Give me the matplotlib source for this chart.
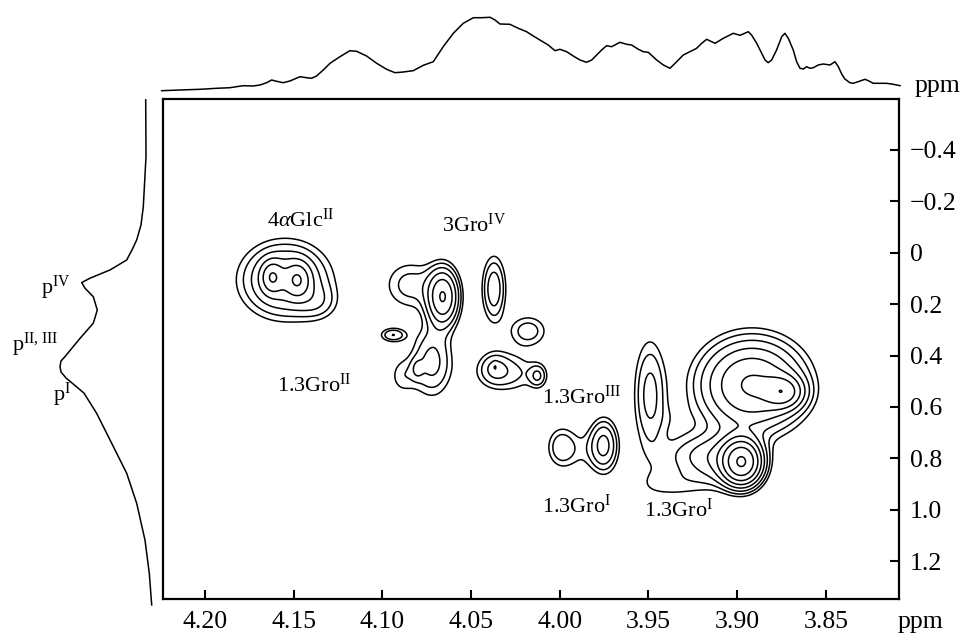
"""2D NMR contour map with top and left projections."""

import numpy as np
import matplotlib

matplotlib.use("Agg")
import matplotlib.pyplot as plt

plt.rcParams["font.family"] = ["Liberation Serif", "DejaVu Serif"]
plt.rcParams["mathtext.fontset"] = "custom"
plt.rcParams["mathtext.rm"] = "Liberation Serif"
plt.rcParams["mathtext.it"] = "Liberation Serif:italic"

# axis ticks
X_TICKS = [4.20, 4.15, 4.10, 4.05, 4.00, 3.95, 3.90, 3.85]
Y_TICKS = [-0.4, -0.2, 0.0, 0.2, 0.4, 0.6, 0.8, 1.0, 1.2]
Y_TICK_LABELS = ["\u22120.4", "\u22120.2", "0", "0.2", "0.4", "0.6", "0.8", "1.0", "1.2"]
X_LIM = (4.2238, 3.8088)
Y_LIM = (1.347, -0.597)

# top projection (1H)
TOP_PPM = [4.2244, 4.2141, 4.2028, 4.1934, 4.1859, 4.1784, 4.1728, 4.1690, 4.1652,
           4.1624, 4.1596, 4.1558, 4.1521, 4.1464, 4.1427, 4.1399, 4.1371, 4.1333,
           4.1295, 4.1239, 4.1183, 4.1145, 4.1089, 4.1032, 4.0976, 4.0929, 4.0882,
           4.0826, 4.0769, 4.0713, 4.0657, 4.0600, 4.0544, 4.0487, 4.0440, 4.0393,
           4.0365, 4.0337, 4.0281, 4.0234, 4.0187, 4.0149, 4.0112, 4.0065, 4.0027,
           3.9999, 3.9961, 3.9924, 3.9886, 3.9849, 3.9820, 3.9792, 3.9764, 3.9736,
           3.9708, 3.9679, 3.9661, 3.9623, 3.9595, 3.9557, 3.9529, 3.9501, 3.9454,
           3.9416, 3.9379, 3.9341, 3.9304, 3.9285, 3.9247, 3.9229, 3.9200, 3.9172,
           3.9144, 3.9125, 3.9078, 3.9022, 3.8984, 3.8937, 3.8919, 3.8890, 3.8862,
           3.8843, 3.8825, 3.8806, 3.8778, 3.8749, 3.8731, 3.8712, 3.8684, 3.8665,
           3.8646, 3.8627, 3.8609, 3.8590, 3.8571, 3.8543, 3.8515, 3.8477, 3.8449,
           3.8430, 3.8411, 3.8393, 3.8365, 3.8346, 3.8318, 3.8280, 3.8261, 3.8233,
           3.8196, 3.8158, 3.8120, 3.8082]
TOP_INT = [1.3, 2.0, 2.7, 3.7, 4.3, 6.3, 6.0, 7.0, 9.3,
           12.0, 10.7, 9.3, 11.0, 15.3, 14.3, 13.7, 16.0, 22.0,
           28.7, 35.3, 41.3, 40.7, 36.0, 28.7, 22.7, 19.3, 20.0,
           21.3, 26.7, 30.3, 45.3, 58.7, 68.7, 74.3, 74.3, 74.7,
           72.0, 68.0, 67.7, 63.7, 60.3, 56.0, 52.0, 47.0, 41.3,
           42.7, 40.3, 36.0, 32.0, 29.7, 32.0, 37.0, 42.0, 46.3,
           45.3, 48.0, 49.7, 47.7, 47.0, 42.7, 40.3, 39.7, 32.0,
           27.0, 23.7, 30.3, 37.0, 38.7, 42.0, 43.7, 48.7, 52.7,
           50.3, 48.7, 53.7, 58.7, 56.7, 60.3, 57.0, 48.7, 38.7,
           32.0, 29.3, 32.0, 42.0, 55.3, 58.7, 53.7, 42.0, 30.3,
           23.7, 23.0, 25.3, 23.7, 24.3, 27.0, 28.0, 27.0, 30.3,
           25.3, 18.0, 13.0, 9.3, 8.7, 10.3, 12.7, 11.3, 8.7,
           8.7, 8.7, 7.7, 6.3]

# left projection (31P)
LEFT_PPM = [-0.595, -0.374, -0.179, -0.108, -0.050, -0.011, 0.028, 0.067, 0.099,
            0.116, 0.138, 0.171, 0.223, 0.274, 0.333, 0.404, 0.421, 0.443,
            0.464, 0.487, 0.546, 0.625, 0.728, 0.858, 0.975, 1.118, 1.247, 1.370]
LEFT_INT = [6.3, 6.0, 8.7, 11.0, 15.3, 20.0, 25.3, 42.0, 62.0,
            70.3, 67.0, 58.7, 54.7, 58.7, 72.0, 87.0, 91.0, 92.0,
            91.0, 86.0, 68.0, 55.3, 42.0, 25.3, 15.3, 7.0, 2.7, 0.3]

# cross peaks: centre (x, y), widths and height
PEAK_X = [4.1549, 4.1363, 4.1622, 4.1476,
          4.0658, 4.0844, 4.0720, 4.0805, 4.0940, 4.0890,
          4.0371, 4.0179,
          4.0298, 4.0371, 4.0365, 4.0123,
          3.9751, 3.9993, 3.9869,
          3.9492, 3.9266, 3.9379, 3.8973, 3.9086, 3.8917, 3.8736, 3.9351]
PEAK_Y = [0.1058, 0.1953, 0.0942, 0.1058,
          0.1720, 0.1253, 0.4249, 0.4521, 0.3198, 0.4794,
          0.1408, 0.3043,
          0.4677, 0.4443, 0.4443, 0.4794,
          0.7478, 0.7556, 0.7673,
          0.5533, 0.7868, 0.9035, 0.8140, 0.8062, 0.5144, 0.5416, 0.6506]
PEAK_SX = [0.0158, 0.0079, 0.0039, 0.0045,
           0.0056, 0.0107, 0.0079, 0.0023, 0.0051, 0.0056,
           0.0045, 0.0079,
           0.0124, 0.0056, 0.00085, 0.0034,
           0.0051, 0.0056, 0.0101,
           0.0062, 0.0141, 0.0158, 0.0068, 0.0124, 0.0180, 0.0068, 0.0068]
PEAK_SY = [0.0934, 0.0467, 0.0389, 0.0428,
           0.0700, 0.0700, 0.0934, 0.0272, 0.0195, 0.0545,
           0.0856, 0.0447,
           0.0545, 0.0428, 0.0117, 0.0311,
           0.0661, 0.0545, 0.0623,
           0.1479, 0.0545, 0.0467, 0.0545, 0.0700, 0.1090, 0.0389, 0.0467]
PEAK_AMP = [4.5, 1.2, 4.0, 4.0,
            7.5, 1.8, 2.6, 1.0, 2.2, 1.2,
            3.0, 1.9,
            1.8, 1.3, 0.8, 1.9,
            3.6, 1.8, 0.9,
            2.6, 1.3, 1.1, 16.0, 2.5, 8.0, 6.5, 0.45]
LEVELS = [1.0, 1.5, 2.25, 3.4, 5.1, 7.6, 11.4, 17.0]

# peak assignments
LABELS = [r"4$\alpha$Glc$^{\mathrm{II}}$", r"3Gro$^{\mathrm{IV}}$", r"1.3Gro$^{\mathrm{II}}$",
          r"1.3Gro$^{\mathrm{III}}$", r"1.3Gro$^{\mathrm{I}}$", r"1.3Gro$^{\mathrm{I}}$"]
LABEL_X = [4.1464, 4.0483, 4.1386, 3.9880, 3.9903, 3.9328]
LABEL_Y = [-0.128, -0.108, 0.514, 0.561, 0.985, 1.001]

P_LABELS = [r"p$^{\mathrm{IV}}$", r"p$^{\mathrm{II,\,III}}$", r"p$^{\mathrm{I}}$"]
P_LABEL_INT = [96, 117.5, 90]
P_LABEL_Y = [0.137, 0.359, 0.553]

W, H = 965, 635


def main():
    fig = plt.figure(figsize=(W / 100, H / 100), dpi=100)
    main_box = [162.7 / W, 1 - 599 / H, (899 - 162.7) / W, (599 - 99.3) / H]
    ax = fig.add_axes(main_box)

    xs = np.linspace(X_LIM[1], X_LIM[0], 800)
    ys = np.linspace(Y_LIM[1], Y_LIM[0], 700)
    gx, gy = np.meshgrid(xs, ys)
    z = np.zeros_like(gx)
    for x0, y0, sx, sy, a in zip(PEAK_X, PEAK_Y, PEAK_SX, PEAK_SY, PEAK_AMP):
        z += a * np.exp(-((gx - x0) ** 2 / (2 * sx ** 2) + (gy - y0) ** 2 / (2 * sy ** 2)))
    ax.contour(gx, gy, z, levels=LEVELS, colors="black", linewidths=1.1)

    ax.set_xlim(*X_LIM)
    ax.set_ylim(*Y_LIM)
    ax.set_xticks(X_TICKS)
    ax.set_xticklabels([f"{t:.2f}" for t in X_TICKS])
    ax.set_yticks(Y_TICKS)
    ax.set_yticklabels(Y_TICK_LABELS)
    ax.yaxis.tick_right()
    ax.tick_params(axis="x", direction="in", length=6.5, width=1.5, labelsize=18.5, pad=9)
    ax.tick_params(axis="y", direction="in", length=6.5, width=1.5, labelsize=18.5, pad=8)
    for sp in ax.spines.values():
        sp.set_linewidth(1.6)

    for txt, lx, ly in zip(LABELS, LABEL_X, LABEL_Y):
        ax.text(lx, ly, txt, fontsize=16, ha="center", va="center")

    # top projection
    ax_t = fig.add_axes([main_box[0], 1 - 92 / H, main_box[2], 82 / H])
    ax_t.plot(TOP_PPM, TOP_INT, color="black", linewidth=1.1, clip_on=False)
    ax_t.set_xlim(*X_LIM)
    ax_t.set_ylim(0, 82)
    ax_t.axis("off")

    # left projection
    ax_l = fig.add_axes([0, main_box[1], 152 / W, main_box[3]])
    ax_l.plot(LEFT_INT, LEFT_PPM, color="black", linewidth=1.1, clip_on=False)
    ax_l.set_xlim(152, 0)
    ax_l.set_ylim(*Y_LIM)
    ax_l.axis("off")
    for txt, px, py in zip(P_LABELS, P_LABEL_INT, P_LABEL_Y):
        ax_l.text(px, py, txt, fontsize=16, ha="center", va="center")

    fig.text(915 / W, 1 - 92 / H, "ppm", fontsize=18.5, ha="left", va="baseline")
    fig.text(920 / W, 1 - 628 / H, "ppm", fontsize=18.5, ha="center", va="baseline")

    fig.savefig("out.png", dpi=100)


if __name__ == "__main__":
    main()
